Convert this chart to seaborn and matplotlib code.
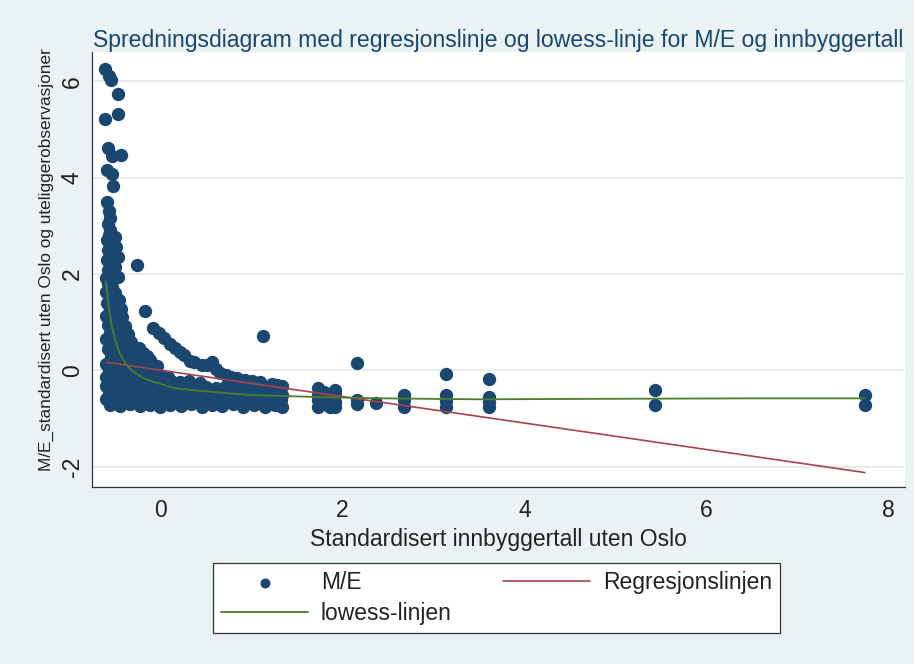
import numpy as np
import pandas as pd
import seaborn as sns
import matplotlib.pyplot as plt

# M/E observations, read off the chart in groups
# tall column of small municipalities on the far left
spike_x = [-0.61, -0.57, -0.55, -0.47, -0.47, -0.61, -0.58, -0.53, -0.44, -0.59,
           -0.53, -0.52, -0.59, -0.57, -0.56, -0.58, -0.56, -0.57, -0.50, -0.59,
           -0.54, -0.49, -0.58, -0.53, -0.47, -0.59, -0.55, -0.50, -0.26, -0.58,
           -0.53, -0.47, -0.60, -0.55]
spike_y = [6.26, 6.12, 6.02, 5.74, 5.33, 5.21, 4.61, 4.46, 4.47, 4.17,
           4.08, 3.82, 3.50, 3.30, 3.16, 3.03, 2.92, 2.82, 2.76, 2.70,
           2.63, 2.56, 2.50, 2.42, 2.36, 2.30, 2.22, 2.15, 2.18, 2.08,
           2.00, 1.95, 1.92, 1.87]

# upper part of the dense cluster
upper_x = [-0.58, -0.53, -0.60, -0.50, -0.55, -0.46, -0.59, -0.51, -0.44, -0.56,
           -0.48, -0.60, -0.42, -0.53, -0.45, -0.58, -0.39, -0.50, -0.43, -0.56,
           -0.36, -0.48, -0.60, -0.40, -0.33, -0.53, -0.45, -0.30, -0.37, -0.58,
           -0.50, -0.26, -0.42, -0.33, -0.55, -0.21, -0.47, -0.28, -0.38, -0.60,
           -0.16, -0.52, -0.23, -0.43, -0.32, -0.11, -0.57, -0.05, -0.15, -0.12,
           -0.04, -0.08, -0.14, -0.19, -0.24]
upper_y = [1.80, 1.74, 1.62, 1.60, 1.52, 1.47, 1.40, 1.36, 1.28, 1.25,
           1.18, 1.14, 1.10, 1.06, 0.98, 0.95, 0.92, 0.88, 0.80, 0.78,
           0.76, 0.70, 0.66, 0.62, 0.60, 0.58, 0.52, 0.48, 0.44, 0.44,
           0.40, 0.36, 0.33, 0.30, 0.28, 0.24, 0.20, 0.18, 0.15, 0.14,
           0.11, 0.08, 0.06, 0.03, 0.01, 0.00, -0.02, -0.06, 0.30, 0.22,
           0.10, 0.12, 0.26, 0.36, 0.46]

# lower, wide part of the dense cluster
lower_x = [-0.49, -0.39, -0.27, -0.17, -0.60, 0.01, 0.08,
           -0.55, -0.45, -0.34, -0.24, -0.12, -0.02, 0.12, 0.21, 0.31, 0.43,
           -0.60, -0.51, -0.40, -0.30, -0.19, -0.08, 0.04, 0.15, 0.27, 0.38,
           0.50, 0.61, 0.72, 0.84, 0.95, 1.07, 1.18, 1.31,
           -0.57, -0.46, -0.36, -0.25, -0.14, -0.03, 0.09, 0.20, 0.32, 0.44,
           0.55, 0.67, 0.78, 0.90, 1.02, 1.13, 1.25, 1.33,
           -0.60, -0.50, -0.39, -0.29, -0.18, -0.07, 0.05, 0.16, 0.27, 0.39,
           0.50, 0.62, 0.73, 0.85, 0.96, 1.08, 1.20, 1.32,
           -0.56, -0.45, -0.34, -0.23, -0.12, -0.01, 0.10, 0.22, 0.33, 0.45,
           0.57, 0.68, 0.80, 0.91, 1.03, 1.15, 1.26, 1.33]
lower_y = [-0.10, -0.12, -0.09, -0.13, -0.14, -0.11, -0.14,
           -0.22, -0.24, -0.21, -0.25, -0.22, -0.24, -0.21, -0.25, -0.23, -0.26,
           -0.33, -0.36, -0.34, -0.37, -0.33, -0.36, -0.34, -0.37, -0.33, -0.36,
           -0.34, -0.37, -0.33, -0.36, -0.34, -0.38, -0.36, -0.40,
           -0.47, -0.49, -0.46, -0.48, -0.46, -0.49, -0.47, -0.49, -0.46, -0.48,
           -0.46, -0.49, -0.47, -0.49, -0.46, -0.48, -0.47, -0.50,
           -0.60, -0.58, -0.61, -0.59, -0.61, -0.58, -0.60, -0.62, -0.59, -0.61,
           -0.58, -0.61, -0.59, -0.62, -0.59, -0.61, -0.58, -0.62,
           -0.71, -0.74, -0.70, -0.74, -0.71, -0.75, -0.71, -0.74, -0.70, -0.75,
           -0.71, -0.74, -0.70, -0.75, -0.72, -0.75, -0.71, -0.75]

# curved band above the cluster
band_x = [-0.17, -0.08, -0.02, 0.04, 0.10, 0.16, 0.21, 0.26, 0.32, 0.37,
          0.45, 0.51, 0.56, 0.61, 0.65, 0.72, 0.77, 0.84, 0.93, 1.00,
          1.09, 1.22, 1.28, 1.33, 1.13]
band_y = [1.23, 0.88, 0.78, 0.68, 0.55, 0.47, 0.38, 0.33, 0.20, 0.17,
          0.11, 0.12, 0.18, 0.03, -0.05, -0.10, -0.14, -0.15, -0.19, -0.23,
          -0.25, -0.28, -0.30, -0.33, 0.72]

# the larger municipalities to the right
right_x = [1.73, 1.73, 1.73, 1.73, 1.80, 1.80, 1.86, 1.86, 1.92, 1.92, 1.92, 1.92,
           2.16, 2.16, 2.16, 2.37, 2.67, 2.67, 2.67, 3.14, 3.14, 3.14, 3.14,
           3.61, 3.61, 3.61, 3.61, 5.43, 5.43, 7.74, 7.74]
right_y = [-0.37, -0.50, -0.62, -0.75, -0.45, -0.70, -0.55, -0.76, -0.40, -0.52, -0.66, -0.76,
           0.15, -0.62, -0.70, -0.68, -0.51, -0.62, -0.75, -0.07, -0.52, -0.63, -0.75,
           -0.18, -0.55, -0.65, -0.75, -0.40, -0.71, -0.51, -0.71]

# fitted lines
reg_x = [-0.60, 7.74]
reg_y = [0.17, -2.12]
lowess_x = [-0.60, -0.57, -0.54, -0.50, -0.45, -0.39, -0.33, -0.28, -0.20, -0.09,
            0.05, 0.16, 0.35, 0.53, 0.98, 1.68, 2.44, 3.50, 4.83, 6.48, 7.74]
lowess_y = [1.85, 1.33, 0.95, 0.64, 0.36, 0.15, 0.02, -0.05, -0.15, -0.23,
            -0.31, -0.37, -0.41, -0.44, -0.51, -0.55, -0.58, -0.60, -0.59, -0.58, -0.58]

me_x = spike_x + upper_x + lower_x + band_x + right_x
me_y = spike_y + upper_y + lower_y + band_y + right_y

bg = '#eaf2f3'
navy = '#1a476f'
maroon = '#a8434b'
green = '#4a7d2c'
txt = '#222222'

sns.set_theme(style="white")
plt.rcParams['font.family'] = ['Liberation Sans', 'DejaVu Sans']
plt.rcParams['axes.unicode_minus'] = False

fig = plt.figure(figsize=(9.14, 6.64), dpi=100, facecolor=bg)
ax = fig.add_axes([0.1007, 0.2666, 0.8893, 0.6550])
ax.set_facecolor('white')

sns.scatterplot(x=me_x, y=me_y, color=navy, s=92, linewidth=0, alpha=1,
                label='M/E', ax=ax, zorder=3)
sns.lineplot(x=reg_x, y=reg_y, color=maroon, lw=1.2, sort=False,
             estimator=None, label='Regresjonslinjen', ax=ax, zorder=4)
sns.lineplot(x=lowess_x, y=lowess_y, color=green, lw=1.3, sort=False,
             estimator=None, label='lowess-linjen', ax=ax, zorder=5)

ax.set_xlim(-0.753, 8.18)
ax.set_ylim(-2.42, 6.61)
ax.set_xticks([0, 2, 4, 6, 8])
ax.set_yticks([-2, 0, 2, 4, 6])
ax.grid(axis='y', color='#dfe8eb', lw=1.1, zorder=0)
ax.grid(axis='x', visible=False)

for s in ['top', 'right']:
    ax.spines[s].set_visible(False)
for s in ['left', 'bottom']:
    ax.spines[s].set_color('#333333')
    ax.spines[s].set_linewidth(0.9)

ax.tick_params(axis='both', direction='out', length=5, width=0.8, color='#333333',
               labelsize=16.5, labelcolor=txt, pad=4)
ax.tick_params(axis='y', labelrotation=90, pad=1)
for lab in ax.get_yticklabels():
    lab.set_va('center')

ax.set_title('Spredningsdiagram med regresjonslinje og lowess-linje for M/E og innbyggertall',
             fontsize=16.6, color=navy, pad=4)
ax.set_xlabel('Standardisert innbyggertall uten Oslo', fontsize=16.5, color=txt)
ax.set_ylabel('M/E_standardisert uten Oslo og uteliggerobservasjoner', fontsize=12.4, color=txt)
ax.xaxis.set_label_coords(0.5, -0.094)
ax.yaxis.set_label_coords(-0.047, 0.524)

handles, labels = ax.get_legend_handles_labels()
ax.get_legend().remove()
order = [0, 2, 1]
leg = fig.legend([handles[i] for i in order], [labels[i] for i in order],
                 loc='center', bbox_to_anchor=(213 / 914, 1 - 634 / 664, 567 / 914, 72 / 664),
                 mode='expand', ncol=2, fontsize=16.5, frameon=True, fancybox=False,
                 edgecolor='#333333', facecolor='white', framealpha=1,
                 handlelength=3.8, handletextpad=0.55, borderpad=0.35,
                 labelspacing=0.35, markerscale=0.75, borderaxespad=0)
leg.get_frame().set_linewidth(0.9)
for t in leg.get_texts():
    t.set_color(txt)

fig.savefig('out.png', dpi=100, facecolor=bg)
